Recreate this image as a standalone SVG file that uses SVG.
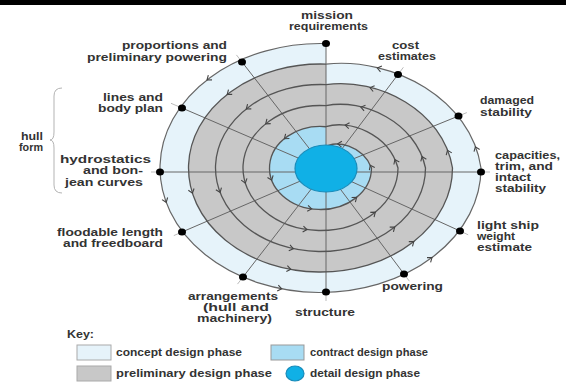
<svg xmlns="http://www.w3.org/2000/svg" xmlns:xlink="http://www.w3.org/1999/xlink" width="566" height="383" viewBox="0 0 566 383">
  <defs>
    <style>
      .lbl { font-family: "Liberation Sans", Arial, sans-serif; font-size: 10px; font-weight: bold; fill: #333; }
      .ring { fill: none; stroke: #555; stroke-width: 1.3; }
      .spoke { stroke: #666; stroke-width: 1; fill: none; }
      .lead { stroke: #aaa; stroke-width: 0.8; fill: none; }
      .dot { fill: #000; }
      .concept { fill: #e6f3fa; }
      .prelim { fill: #c8c8c8; }
      .contract { fill: #a8dcf3; }
      .detail { fill: #10b0e6; stroke: #1a8cba; stroke-width: 1.2; }
    </style>
    <path id="ah" d="M-4,-3 L0,0 L-4,3" fill="none" stroke="#444" stroke-width="1.1"/>
    <!-- one turn of the spiral each: three quarters on a level, then stepping inwards in the last quarter -->
    <path id="turn1" d="M326,43.57 A160.5,124.5 0 1 0 481,168 C471,99.2 393.4,56.8 326,64.09"/>
    <path id="turn2" d="M326,64.09 A132,104 0 1 0 452.5,168 C443,110.6 378.5,77.3 326,84.61"/>
    <path id="turn3" d="M326,84.61 A105,83.5 0 1 0 425.5,168 C415.8,121.9 363.3,98.1 326,105.66"/>
    <path id="turn4" d="M326,105.66 A77.5,62.5 0 1 0 398,168 C388.7,133.5 348.7,119.1 326,126.74"/>
    <path id="turn5" d="M326,126.74 A51,41.5 0 1 0 371.5,168 C362.7,145.1 334.9,139.8 326,147"/>
  </defs>

  <rect x="0" y="0" width="566" height="383" fill="#fff"/>
  <rect x="0" y="0" width="566" height="5" fill="#000"/>

  <!-- phase bands -->
  <g id="bands">
    <use xlink:href="#turn1" href="#turn1" class="concept"/>
    <use xlink:href="#turn2" href="#turn2" class="prelim"/>
    <use xlink:href="#turn5" href="#turn5" class="contract"/>
  </g>

  <!-- connectors: spokes from each task to the centre, with short leaders -->
  <g id="connectors">
    <line class="spoke" x1="160" y1="172" x2="481" y2="172"/>
    <line class="spoke" x1="326" y1="43.5" x2="326" y2="292"/>
    <line class="spoke" x1="398" y1="74.5" x2="326" y2="170"/>
    <line class="spoke" x1="458.5" y1="116" x2="326" y2="170"/>
    <line class="spoke" x1="460" y1="231" x2="326" y2="170"/>
    <line class="spoke" x1="404" y1="274" x2="326" y2="170"/>
    <line class="spoke" x1="243" y1="277" x2="326" y2="170"/>
    <line class="spoke" x1="182" y1="232" x2="326" y2="170"/>
    <line class="spoke" x1="182" y1="108" x2="326" y2="170"/>
    <line class="spoke" x1="242" y1="62" x2="326" y2="170"/>

    <line class="lead" x1="398" y1="74.5" x2="403.4" y2="67.3"/>
    <line class="lead" x1="458.5" y1="116" x2="466.8" y2="112.6"/>
    <line class="lead" x1="481" y1="172" x2="490" y2="172"/>
    <line class="lead" x1="460" y1="231" x2="468.2" y2="234.8"/>
    <line class="lead" x1="404" y1="274" x2="409.4" y2="281.2"/>
    <line class="lead" x1="326" y1="292" x2="326" y2="301"/>
    <line class="lead" x1="243" y1="277" x2="237.5" y2="284.1"/>
    <line class="lead" x1="182" y1="232" x2="173.8" y2="235.6"/>
    <line class="lead" x1="160" y1="172" x2="151" y2="172"/>
    <line class="lead" x1="182" y1="108" x2="171" y2="103.3"/>
    <line class="lead" x1="242" y1="62" x2="236.4" y2="54.9"/>
  </g>

  <!-- spiral line -->
  <g id="spiral">
    <use xlink:href="#turn1" href="#turn1" fill="none" stroke="#666" stroke-width="1.2"/>
    <use xlink:href="#turn2" href="#turn2" class="ring"/>
    <use xlink:href="#turn3" href="#turn3" class="ring"/>
    <use xlink:href="#turn4" href="#turn4" class="ring"/>
    <use xlink:href="#turn5" href="#turn5" class="ring"/>
  </g>

  <!-- detail design core -->
  <g id="node-detail">
    <ellipse class="detail" cx="326" cy="168.5" rx="31" ry="23.5"/>
  </g>

  <!-- direction of travel round the spiral -->
  <g id="arrows">
    <use xlink:href="#ah" href="#ah" transform="translate(377.3,68) rotate(-166.4)"/>
    <use xlink:href="#ah" href="#ah" transform="translate(207,80) rotate(142.2)"/>
    <use xlink:href="#ah" href="#ah" transform="translate(166.2,202.3) rotate(69.7)"/>
    <use xlink:href="#ah" href="#ah" transform="translate(281.7,288.8) rotate(10.9)"/>
    <use xlink:href="#ah" href="#ah" transform="translate(432,257.6) rotate(-36.9)"/>
    <use xlink:href="#ah" href="#ah" transform="translate(475.4,146.8) rotate(-110.9)"/>

    <use xlink:href="#ah" href="#ah" transform="translate(370,87.6) rotate(-165.8)"/>
    <use xlink:href="#ah" href="#ah" transform="translate(227.2,94.5) rotate(141.8)"/>
    <use xlink:href="#ah" href="#ah" transform="translate(192.4,193.2) rotate(72.5)"/>
    <use xlink:href="#ah" href="#ah" transform="translate(290.8,269.3) rotate(10.3)"/>
    <use xlink:href="#ah" href="#ah" transform="translate(413.8,241.5) rotate(-38.2)"/>
    <use xlink:href="#ah" href="#ah" transform="translate(447.5,150.3) rotate(-111.9)"/>

    <use xlink:href="#ah" href="#ah" transform="translate(360.9,107.1) rotate(-166.3)"/>
    <use xlink:href="#ah" href="#ah" transform="translate(246.3,109) rotate(141.5)"/>
    <use xlink:href="#ah" href="#ah" transform="translate(220.1,192.4) rotate(69)"/>
    <use xlink:href="#ah" href="#ah" transform="translate(293.3,248.7) rotate(12)"/>
    <use xlink:href="#ah" href="#ah" transform="translate(394.7,227) rotate(-38.5)"/>
    <use xlink:href="#ah" href="#ah" transform="translate(422.1,156.6) rotate(-111.8)"/>

    <use xlink:href="#ah" href="#ah" transform="translate(345.2,125.1) rotate(-172.5)"/>
    <use xlink:href="#ah" href="#ah" transform="translate(265.7,123.8) rotate(141.1)"/>
    <use xlink:href="#ah" href="#ah" transform="translate(245.3,183.1) rotate(72.8)"/>
    <use xlink:href="#ah" href="#ah" transform="translate(307,229.6) rotate(8.1)"/>
    <use xlink:href="#ah" href="#ah" transform="translate(375.3,212.2) rotate(-38.9)"/>
    <use xlink:href="#ah" href="#ah" transform="translate(394.9,159.6) rotate(-115.1)"/>

    <use xlink:href="#ah" href="#ah" transform="translate(337.7,143.9) rotate(-176.1)"/>
    <use xlink:href="#ah" href="#ah" transform="translate(284.4,138.7) rotate(140.9)"/>
    <use xlink:href="#ah" href="#ah" transform="translate(271.7,180.1) rotate(69.4)"/>
    <use xlink:href="#ah" href="#ah" transform="translate(311.6,208.9) rotate(8.2)"/>
    <use xlink:href="#ah" href="#ah" transform="translate(356.6,197.3) rotate(-39.1)"/>
    <use xlink:href="#ah" href="#ah" transform="translate(370.3,165.2) rotate(-116.1)"/>
  </g>

  <!-- task nodes -->
  <g id="node-mission">
    <ellipse class="dot" cx="326" cy="43.5" rx="4" ry="3.5"/>
    <text class="lbl" x="301" y="18.5" textLength="52" lengthAdjust="spacingAndGlyphs">mission</text>
    <text class="lbl" x="289" y="30" textLength="79" lengthAdjust="spacingAndGlyphs">requirements</text>
  </g>
  <g id="node-cost">
    <ellipse class="dot" cx="398" cy="74.5" rx="4" ry="3.5"/>
    <text class="lbl" x="392" y="49" textLength="27" lengthAdjust="spacingAndGlyphs">cost</text>
    <text class="lbl" x="378" y="60" textLength="58" lengthAdjust="spacingAndGlyphs">estimates</text>
  </g>
  <g id="node-damaged">
    <ellipse class="dot" cx="458.5" cy="116" rx="4" ry="3.5"/>
    <text class="lbl" x="480" y="104" textLength="54" lengthAdjust="spacingAndGlyphs">damaged</text>
    <text class="lbl" x="480" y="116" textLength="52" lengthAdjust="spacingAndGlyphs">stability</text>
  </g>
  <g id="node-capacities">
    <ellipse class="dot" cx="481" cy="172" rx="4" ry="3.5"/>
    <text class="lbl" x="495" y="158.5" textLength="65" lengthAdjust="spacingAndGlyphs">capacities,</text>
    <text class="lbl" x="495" y="169.5" textLength="58" lengthAdjust="spacingAndGlyphs">trim, and</text>
    <text class="lbl" x="495" y="180.5" textLength="36" lengthAdjust="spacingAndGlyphs">intact</text>
    <text class="lbl" x="495" y="191.5" textLength="51" lengthAdjust="spacingAndGlyphs">stability</text>
  </g>
  <g id="node-lightship">
    <ellipse class="dot" cx="460" cy="231" rx="4" ry="3.5"/>
    <text class="lbl" x="477" y="228.5" textLength="62" lengthAdjust="spacingAndGlyphs">light ship</text>
    <text class="lbl" x="477" y="239.5" textLength="38" lengthAdjust="spacingAndGlyphs">weight</text>
    <text class="lbl" x="477" y="250.5" textLength="55" lengthAdjust="spacingAndGlyphs">estimate</text>
  </g>
  <g id="node-powering">
    <ellipse class="dot" cx="404" cy="274" rx="4" ry="3.5"/>
    <text class="lbl" x="382" y="290" textLength="61" lengthAdjust="spacingAndGlyphs">powering</text>
  </g>
  <g id="node-structure">
    <ellipse class="dot" cx="326" cy="292" rx="4" ry="3.5"/>
    <text class="lbl" x="295" y="315.5" textLength="60" lengthAdjust="spacingAndGlyphs">structure</text>
  </g>
  <g id="node-arrangements">
    <ellipse class="dot" cx="243" cy="277" rx="4" ry="3.5"/>
    <text class="lbl" x="188" y="299.5" textLength="90" lengthAdjust="spacingAndGlyphs">arrangements</text>
    <text class="lbl" x="203" y="311" textLength="66" lengthAdjust="spacingAndGlyphs">(hull and</text>
    <text class="lbl" x="197" y="322" textLength="75" lengthAdjust="spacingAndGlyphs">machinery)</text>
  </g>
  <g id="node-floodable">
    <ellipse class="dot" cx="182" cy="232" rx="4" ry="3.5"/>
    <text class="lbl" x="57" y="236" textLength="106" lengthAdjust="spacingAndGlyphs">floodable length</text>
    <text class="lbl" x="63" y="247" textLength="100" lengthAdjust="spacingAndGlyphs">and freedboard</text>
  </g>
  <g id="node-hydrostatics">
    <ellipse class="dot" cx="160" cy="172" rx="4" ry="3.5"/>
    <text class="lbl" x="60" y="162.5" textLength="91" lengthAdjust="spacingAndGlyphs">hydrostatics</text>
    <text class="lbl" x="83" y="174" textLength="60" lengthAdjust="spacingAndGlyphs">and bon-</text>
    <text class="lbl" x="65" y="185.5" textLength="78" lengthAdjust="spacingAndGlyphs">jean curves</text>
  </g>
  <g id="node-lines">
    <ellipse class="dot" cx="182" cy="108" rx="4" ry="3.5"/>
    <text class="lbl" x="103" y="100.5" textLength="60" lengthAdjust="spacingAndGlyphs">lines and</text>
    <text class="lbl" x="98" y="111.5" textLength="65" lengthAdjust="spacingAndGlyphs">body plan</text>
  </g>
  <g id="node-proportions">
    <ellipse class="dot" cx="242" cy="62" rx="4" ry="3.5"/>
    <text class="lbl" x="122" y="49" textLength="105" lengthAdjust="spacingAndGlyphs">proportions and</text>
    <text class="lbl" x="87" y="61" textLength="140" lengthAdjust="spacingAndGlyphs">preliminary powering</text>
  </g>

  <!-- hull form grouping -->
  <g id="hull-form">
    <path d="M62,88 Q54,88 54,96 L54,132 Q54,140 50,140 Q54,140 54,148 L54,185 Q54,193 62,193" fill="none" stroke="#aaa" stroke-width="0.9"/>
    <text class="lbl" x="21" y="140" textLength="22" lengthAdjust="spacingAndGlyphs">hull</text>
    <text class="lbl" x="19" y="150.5" textLength="24" lengthAdjust="spacingAndGlyphs">form</text>
  </g>

  <!-- legend -->
  <g id="key">
    <text class="lbl" x="67" y="338" textLength="27" lengthAdjust="spacingAndGlyphs">Key:</text>
    <rect class="concept" x="77" y="345" width="34" height="15" stroke="#aaa" stroke-width="1"/>
    <text class="lbl" x="116" y="355.5" textLength="126" lengthAdjust="spacingAndGlyphs">concept design phase</text>
    <rect class="contract" x="271" y="345" width="33" height="15" stroke="#999" stroke-width="1"/>
    <text class="lbl" x="310" y="355.5" textLength="118" lengthAdjust="spacingAndGlyphs">contract design phase</text>
    <rect class="prelim" x="77" y="366" width="34" height="15" stroke="#aaa" stroke-width="1"/>
    <text class="lbl" x="116" y="376.5" textLength="156" lengthAdjust="spacingAndGlyphs">preliminary design phase</text>
    <ellipse class="detail" cx="295" cy="373.5" rx="9" ry="7.5"/>
    <text class="lbl" x="310" y="376.5" textLength="110" lengthAdjust="spacingAndGlyphs">detail design phase</text>
  </g>
</svg>
